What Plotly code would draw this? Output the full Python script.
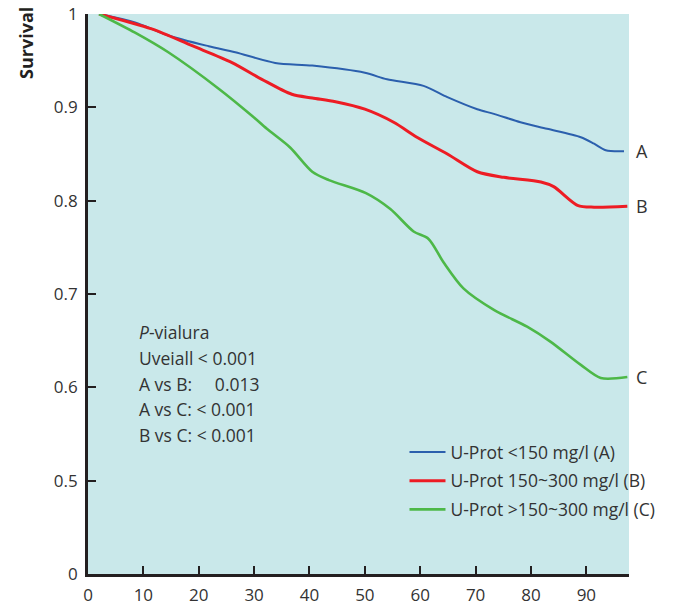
import plotly.graph_objects as go

# ---- data ----
months_a = [2, 8.5, 14.5, 21.8, 26.6, 33.8, 40.5, 50, 54, 60.6, 64.9, 70.3, 73.3, 78.1, 82.9, 89, 91.4, 93.5, 96.8]
surv_a = [1.0, 0.991, 0.977, 0.9655, 0.959, 0.9476, 0.9447, 0.937, 0.930, 0.923, 0.911, 0.898, 0.893, 0.884, 0.877, 0.868, 0.861, 0.854, 0.853]

months_b = [2, 11.5, 18.8, 26, 31.4, 36.8, 40.5, 44.7, 50, 55.2, 59.4, 64.9, 70.3, 75.1, 81.8, 84.1, 88.4, 91.4, 97.4]
surv_b = [1.0, 0.984, 0.966, 0.948, 0.930, 0.914, 0.910, 0.906, 0.898, 0.884, 0.868, 0.850, 0.831, 0.825, 0.820, 0.815, 0.795, 0.793, 0.794]

months_c = [2, 8.5, 14.5, 23.6, 29.6, 32.3, 36.5, 40.5, 43.5, 50.2, 54.6, 58.8, 61.5, 64.2, 67.8, 73.3, 79.3, 83.5, 89, 92.6, 97.4]
surv_c = [1.0, 0.980, 0.959, 0.920, 0.891, 0.877, 0.857, 0.831, 0.822, 0.808, 0.791, 0.767, 0.759, 0.734, 0.706, 0.683, 0.665, 0.649, 0.624, 0.610, 0.611]

series_names = ["U-Prot <150 mg/l (A)", "U-Prot 150~300 mg/l (B)", "U-Prot >150~300 mg/l (C)"]
end_labels = ["A", "B", "C"]

x_ticks = [0, 10, 20, 30, 40, 50, 60, 70, 80, 90]
y_tick_values = [0, 0.5, 0.6, 0.7, 0.8, 0.9, 1.0]
y_tick_labels = ["0", "0.5", "0.6", "0.7", "0.8", "0.9", "1"]

stats_lines = ["<i>P</i>-vialura", "Uveiall < 0.001", "A vs B:\u00a0\u00a0\u00a0\u00a0\u00a00.013",
               "A vs C: < 0.001", "B vs C: < 0.001"]

# ---- broken y axis: 0 .. 0.5 compressed to one step ----
def ybreak(v):
    return 0.0 if v <= 0 else (v - 0.4) * 10 if v >= 0.5 else v * 2

colors = ["#2b5fad", "#ed1c24", "#4db848"]
widths = [2, 3, 2.6]
FONT = "Open Sans"
TXT = "#333333"

fig = go.Figure()
for name, xs, ys, c, w in zip(series_names, [months_a, months_b, months_c],
                              [surv_a, surv_b, surv_c], colors, widths):
    fig.add_trace(go.Scatter(x=xs, y=[ybreak(v) for v in ys], mode="lines", name=name,
                             legendgroup=name,
                             line=dict(color=c, width=w, shape="spline", smoothing=0.8)))

annotations = []
for lab, ys in zip(end_labels, [surv_a, surv_b, surv_c]):
    annotations.append(dict(x=1, xref="paper", y=ybreak(ys[-1]), yref="y", text=lab,
                            xanchor="left", yanchor="middle", xshift=5, showarrow=False,
                            font=dict(family=FONT, size=18, color=TXT)))

for i, line in enumerate(stats_lines):
    annotations.append(dict(x=(137 - 88) / 541, xref="paper", y=(574 - 332 - i * 25.8) / 560, yref="paper",
                            text=line, xanchor="left", yanchor="middle", showarrow=False,
                            font=dict(family=FONT, size=17.5, color=TXT)))

annotations.append(dict(x=(26 - 88) / 541, xref="paper", y=(574 - 43) / 560, yref="paper",
                        text="<b>Survival</b>", textangle=-90, showarrow=False,
                        xanchor="center", yanchor="middle",
                        font=dict(family=FONT, size=18, color="#231f20")))

fig.update_layout(
    width=675, height=606,
    margin=dict(l=88, r=46, t=14, b=32, autoexpand=False),
    paper_bgcolor="white", plot_bgcolor="#c9e8ea",
    showlegend=True,
    legend=dict(x=0.585, y=(574 - 434) / 560, xanchor="left", yanchor="top",
                bgcolor="rgba(0,0,0,0)", borderwidth=0, tracegroupgap=3, itemwidth=36,
                font=dict(family=FONT, size=17.5, color=TXT)),
    annotations=annotations,
)
fig.update_xaxes(range=[0, 97.7], tickvals=x_ticks, showgrid=False, zeroline=False,
                 showline=True, linecolor="#231f20", linewidth=2.7, automargin=False,
                 ticks="inside", ticklen=8, tickwidth=2, tickcolor="#231f20",
                 tickfont=dict(family=FONT, size=17, color=TXT), ticklabelstandoff=4)
fig.update_yaxes(range=[0, 6.0], tickvals=[ybreak(v) for v in y_tick_values], ticktext=y_tick_labels,
                 showgrid=False, zeroline=False, automargin=False,
                 showline=True, linecolor="#231f20", linewidth=2.7,
                 ticks="inside", ticklen=8, tickwidth=2, tickcolor="#231f20",
                 tickfont=dict(family=FONT, size=17, color=TXT), ticklabelstandoff=4)

fig.write_html("out.html", config={"displayModeBar": False},
               post_script="document.body.style.margin='0';document.body.style.padding='0';")
